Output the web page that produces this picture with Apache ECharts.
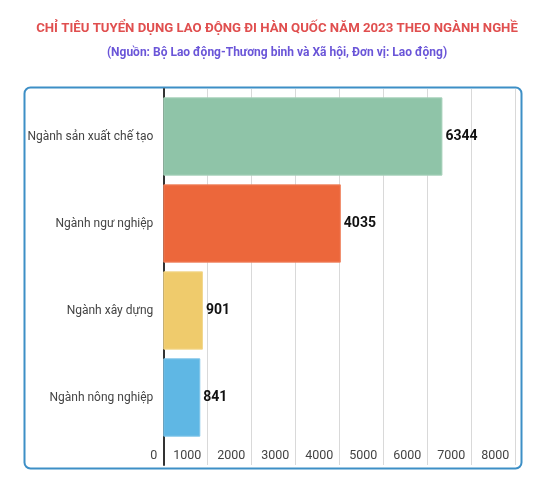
<!DOCTYPE html>
<html><head><meta charset="utf-8">
<script src="https://cdn.jsdelivr.net/npm/echarts@6/dist/echarts.min.js"></script>
<style>html,body{margin:0;padding:0;background:#fff}#c{width:536px;height:480px}</style>
</head><body><div id="c"></div>
<script>
const categories = ['Ngành sản xuất chế tạo', 'Ngành ngư nghiệp', 'Ngành xây dựng', 'Ngành nông nghiệp'];
const values = [6344, 4035, 901, 841];
const barColors = ['#8fc4a8', '#ec673b', '#efcb6c', '#5fb7e4'];
const barBorders = ['#a8d2bb', '#f08562', '#f3d88e', '#80c6ea'];
const titleText = 'CHỈ TIÊU TUYỂN DỤNG LAO ĐỘNG ĐI HÀN QUỐC NĂM 2023 THEO NGÀNH NGHỀ';
const subtitleText = '(Nguồn: Bộ Lao động-Thương binh và Xã hội, Đơn vị: Lao động)';
const xMin = 0, xMax = 8000, xStep = 1000;

const chart = echarts.init(document.getElementById('c'), null, {renderer: 'canvas'});
const font = 'Roboto';
chart.setOption({
  animation: false,
  textStyle: {fontFamily: font},
  title: [
    {text: titleText, left: 272, textAlign: 'center', top: 17, textStyle: {color: '#e04f4f', fontSize: 13.2, fontWeight: 'bold', fontFamily: font}},
    {text: subtitleText, left: 272, textAlign: 'center', top: 42, textStyle: {color: '#6a55d8', fontSize: 12, fontWeight: 'bold', fontFamily: font}}
  ],
  graphic: [{
    type: 'rect', left: 22, top: 85, z: -1,
    shape: {width: 497, height: 381, r: 6},
    style: {fill: 'none', stroke: '#3d8fc6', lineWidth: 2}
  }],
  grid: [
    {left: 163.3, right: 536 - 515.3, top: 89, bottom: 480 - 465},
    {left: 163.3, right: 536 - 515.3, top: 93, bottom: 480 - 441}
  ],
  xAxis: [
    {gridIndex: 0, type: 'value', min: xMin, max: xMax, interval: xStep,
     axisLine: {show: false}, axisTick: {show: false},
     splitLine: {lineStyle: {color: '#d9d9d9', width: 1}},
     axisLabel: {inside: true, margin: 3, align: 'right', padding: [0, 6, 0, 0], color: '#444', fontSize: 12.5, fontFamily: font,
                 formatter: v => String(v)}},
    {gridIndex: 1, type: 'value', min: xMin, max: xMax, interval: xStep, show: false}
  ],
  yAxis: [
    {gridIndex: 0, type: 'value', min: 0, max: 1,
     axisLine: {show: true, onZero: false, lineStyle: {color: '#333', width: 2}},
     axisTick: {show: false}, axisLabel: {show: false}, splitLine: {show: false}},
    {gridIndex: 1, type: 'category', data: categories, inverse: true,
     axisLine: {show: false}, axisTick: {show: false},
     axisLabel: {margin: 10, color: '#444', fontSize: 12, fontFamily: font}}
  ],
  series: [{
    type: 'bar', xAxisIndex: 1, yAxisIndex: 1,
    barCategoryGap: '10%',
    data: values.map((v, i) => ({value: v, itemStyle: {color: barColors[i], borderColor: barBorders[i], borderWidth: 1}})),
    label: {show: true, position: 'right', distance: 3, color: '#111', fontWeight: 'bold', fontSize: 14, fontFamily: font}
  }]
});
</script></body></html>
